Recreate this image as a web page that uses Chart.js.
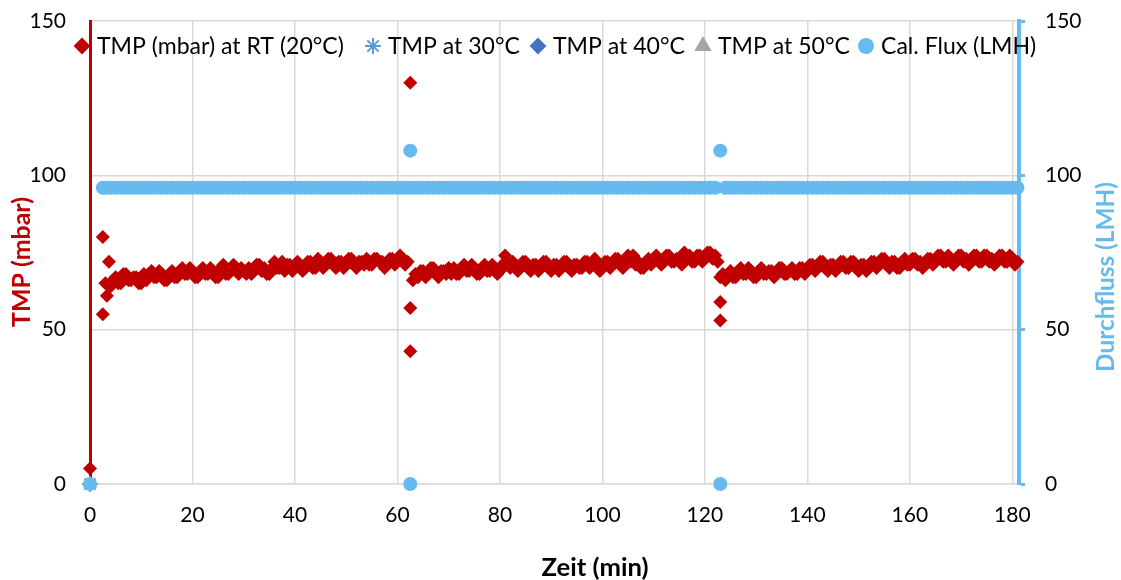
<!DOCTYPE html>
<html>
<head>
<meta charset="utf-8">
<script src="https://cdn.jsdelivr.net/npm/chart.js@4/dist/chart.umd.min.js"></script>
<style>
  html, body { margin: 0; padding: 0; background: #fff; }
  #wrap { width: 1121px; height: 580px; }
</style>
</head>
<body>
<div id="wrap"><canvas id="chart"></canvas></div>
<script>
// ---- data ----
const xTicks = [0, 20, 40, 60, 80, 100, 120, 140, 160, 180];
const yTicks = [0, 50, 100, 150];

const xTitle = "Zeit (min)";
const yTitle = "TMP (mbar)";
const y1Title = "Durchfluss (LMH)";

// TMP at RT, about two readings per minute
const tmpMinutes = [
  0, 2.5, 2.5, 3, 3.3, 3.7,
  4, 4.5, 5, 5.5, 6, 6.5, 7, 7.5, 8, 8.5, 9, 9.5, 10, 10.5,
  11, 11.5, 12, 12.5, 13, 13.5, 14, 14.5, 15, 15.5, 16, 16.5, 17, 17.5, 18, 18.5, 19, 19.5, 20, 20.5,
  21, 21.5, 22, 22.5, 23, 23.5, 24, 24.5, 25, 25.5, 26, 26.5, 27, 27.5, 28, 28.5, 29, 29.5, 30, 30.5,
  31, 31.5, 32, 32.5, 33, 33.5, 34, 34.5, 35, 35.5, 36, 36.5, 37, 37.5, 38, 38.5, 39, 39.5, 40, 40.5,
  41, 41.5, 42, 42.5, 43, 43.5, 44, 44.5, 45, 45.5, 46, 46.5, 47, 47.5, 48, 48.5, 49, 49.5, 50, 50.5,
  51, 51.5, 52, 52.5, 53, 53.5, 54, 54.5, 55, 55.5, 56, 56.5, 57, 57.5, 58, 58.5, 59, 59.5, 60, 60.5,
  61, 61.5, 62, 62.5, 62.5, 62.5,
  63, 63.5, 64, 64.5, 65, 65.5, 66, 66.5, 67, 67.5, 68, 68.5, 69, 69.5, 70, 70.5,
  71, 71.5, 72, 72.5, 73, 73.5, 74, 74.5, 75, 75.5, 76, 76.5, 77, 77.5, 78, 78.5, 79, 79.5, 80, 80.5,
  81, 81.5, 82, 82.5, 83, 83.5, 84, 84.5, 85, 85.5, 86, 86.5, 87, 87.5, 88, 88.5, 89, 89.5, 90, 90.5,
  91, 91.5, 92, 92.5, 93, 93.5, 94, 94.5, 95, 95.5, 96, 96.5, 97, 97.5, 98, 98.5, 99, 99.5, 100, 100.5,
  101, 101.5, 102, 102.5, 103, 103.5, 104, 104.5, 105, 105.5, 106, 106.5, 107, 107.5, 108, 108.5, 109, 109.5, 110, 110.5,
  111, 111.5, 112, 112.5, 113, 113.5, 114, 114.5, 115, 115.5, 116, 116.5, 117, 117.5, 118, 118.5, 119, 119.5, 120, 120.5,
  121, 121.5, 122, 122.5, 123, 123, 123,
  123.5, 124, 124.5, 125, 125.5, 126, 126.5, 127, 127.5, 128, 128.5, 129, 129.5, 130, 130.5,
  131, 131.5, 132, 132.5, 133, 133.5, 134, 134.5, 135, 135.5, 136, 136.5, 137, 137.5, 138, 138.5, 139, 139.5, 140, 140.5,
  141, 141.5, 142, 142.5, 143, 143.5, 144, 144.5, 145, 145.5, 146, 146.5, 147, 147.5, 148, 148.5, 149, 149.5, 150, 150.5,
  151, 151.5, 152, 152.5, 153, 153.5, 154, 154.5, 155, 155.5, 156, 156.5, 157, 157.5, 158, 158.5, 159, 159.5, 160, 160.5,
  161, 161.5, 162, 162.5, 163, 163.5, 164, 164.5, 165, 165.5, 166, 166.5, 167, 167.5, 168, 168.5, 169, 169.5, 170, 170.5,
  171, 171.5, 172, 172.5, 173, 173.5, 174, 174.5, 175, 175.5, 176, 176.5, 177, 177.5, 178, 178.5, 179, 179.5, 180, 180.5,
  181
];
const tmpRT = [
  5, 80, 55, 65, 61, 72,
  64, 66, 67, 65, 65, 68, 68, 66, 66, 67, 67, 65, 65, 68,
  66, 68, 69, 67, 67, 69, 68, 66, 66, 68, 69, 67, 67, 69, 70, 68, 68, 70, 69, 67,
  67, 69, 70, 68, 68, 70, 69, 67, 67, 70, 71, 68, 68, 70, 71, 69, 68, 70, 69, 68,
  70, 68, 69, 71, 71, 69, 70, 68, 68, 70, 72, 70, 70, 72, 69, 71, 71, 69, 70, 72,
  71, 69, 70, 72, 72, 70, 70, 73, 72, 70, 71, 73, 73, 71, 70, 72, 72, 70, 71, 73,
  73, 71, 70, 72, 72, 71, 73, 71, 71, 73, 73, 72, 72, 70, 71, 73, 73, 71, 72, 74,
  73, 71, 72, 130, 57, 43,
  66, 68, 67, 69, 69, 67, 68, 70, 70, 68, 67, 69, 69, 68, 70, 68,
  70, 68, 68, 70, 71, 69, 69, 71, 70, 68, 68, 70, 71, 69, 69, 71, 70, 68, 69, 71,
  74, 71, 70, 72, 71, 69, 70, 72, 72, 70, 69, 71, 71, 69, 70, 72, 72, 70, 69, 71,
  71, 69, 70, 72, 72, 70, 69, 71, 71, 70, 70, 72, 72, 70, 71, 73, 71, 69, 70, 72,
  72, 70, 71, 73, 73, 71, 70, 72, 74, 72, 74, 71, 72, 70, 70, 72, 73, 71, 72, 74,
  73, 71, 72, 74, 74, 72, 72, 73, 73, 71, 75, 73, 74, 72, 72, 74, 74, 72, 73, 75,
  75, 73, 74, 72, 67, 59, 53,
  68, 66, 68, 69, 67, 67, 69, 70, 68, 68, 70, 69, 67, 67, 69,
  70, 68, 68, 69, 69, 67, 68, 70, 70, 68, 68, 69, 70, 68, 68, 70, 70, 68, 69, 71,
  71, 69, 70, 72, 72, 70, 69, 71, 71, 69, 70, 72, 72, 70, 70, 72, 72, 70, 69, 71,
  71, 69, 70, 72, 72, 70, 71, 73, 73, 71, 70, 72, 72, 70, 70, 72, 73, 71, 71, 73,
  73, 71, 72, 70, 71, 73, 73, 71, 72, 74, 74, 72, 72, 74, 73, 71, 72, 74, 74, 72,
  73, 71, 72, 74, 74, 72, 72, 74, 74, 72, 73, 71, 72, 74, 74, 72, 72, 74, 73, 71,
  72
];

const otherMinutes = [0];
const tmp30 = [0];
const tmp40 = [0];
const tmp50 = [0];

const fluxMinutes = [
  0, 2.5,
  3, 4, 5, 6, 7, 8, 9, 10, 11, 12,
  13, 14, 15, 16, 17, 18, 19, 20, 21, 22,
  23, 24, 25, 26, 27, 28, 29, 30, 31, 32,
  33, 34, 35, 36, 37, 38, 39, 40, 41, 42,
  43, 44, 45, 46, 47, 48, 49, 50, 51, 52,
  53, 54, 55, 56, 57, 58, 59, 60, 61, 62,
  62.5, 62.5,
  63, 64, 65, 66, 67, 68, 69, 70, 71, 72,
  73, 74, 75, 76, 77, 78, 79, 80, 81, 82,
  83, 84, 85, 86, 87, 88, 89, 90, 91, 92,
  93, 94, 95, 96, 97, 98, 99, 100, 101, 102,
  103, 104, 105, 106, 107, 108, 109, 110, 111, 112,
  113, 114, 115, 116, 117, 118, 119, 120, 121, 122,
  123, 123,
  124, 125, 126, 127, 128, 129, 130, 131, 132, 133,
  134, 135, 136, 137, 138, 139, 140, 141, 142, 143,
  144, 145, 146, 147, 148, 149, 150, 151, 152, 153,
  154, 155, 156, 157, 158, 159, 160, 161, 162, 163,
  164, 165, 166, 167, 168, 169, 170, 171, 172, 173,
  174, 175, 176, 177, 178, 179, 180, 181
];
const fluxLMH = [
  0, 96,
  96, 96, 96, 96, 96, 96, 96, 96, 96, 96,
  96, 96, 96, 96, 96, 96, 96, 96, 96, 96,
  96, 96, 96, 96, 96, 96, 96, 96, 96, 96,
  96, 96, 96, 96, 96, 96, 96, 96, 96, 96,
  96, 96, 96, 96, 96, 96, 96, 96, 96, 96,
  96, 96, 96, 96, 96, 96, 96, 96, 96, 96,
  108, 0,
  96, 96, 96, 96, 96, 96, 96, 96, 96, 96,
  96, 96, 96, 96, 96, 96, 96, 96, 96, 96,
  96, 96, 96, 96, 96, 96, 96, 96, 96, 96,
  96, 96, 96, 96, 96, 96, 96, 96, 96, 96,
  96, 96, 96, 96, 96, 96, 96, 96, 96, 96,
  96, 96, 96, 96, 96, 96, 96, 96, 96, 96,
  108, 0,
  96, 96, 96, 96, 96, 96, 96, 96, 96, 96,
  96, 96, 96, 96, 96, 96, 96, 96, 96, 96,
  96, 96, 96, 96, 96, 96, 96, 96, 96, 96,
  96, 96, 96, 96, 96, 96, 96, 96, 96, 96,
  96, 96, 96, 96, 96, 96, 96, 96, 96, 96,
  96, 96, 96, 96, 96, 96, 96, 96
];

// -------------------------
// helpers
// -------------------------
function pairs(xs, ys) {
  return xs.map((x, i) => ({ x: x, y: ys[i] }));
}

const RED = "#C00000";
const FLUX = "#66BAEE";
const GRID = "#D9D9D9";
const FONT = "Lato";

Chart.defaults.font.family = FONT;
Chart.defaults.color = "#000";

// font size that makes `text` about `target` px wide
function fitFont(ctx, text, target, weight) {
  ctx.font = `${weight} 20px ${FONT}`;
  const w = ctx.measureText(text).width;
  return 20 * target / w;
}

// legend across the top of the plot + axis titles (Excel style)
const legendX = [82, 373, 538, 703, 866];
const legendW = [258, 132, 132, 133, 162];

const excelDecor = {
  id: "excelDecor",
  afterDraw(chart) {
    const ctx = chart.ctx;
    const sets = chart.data.datasets;
    ctx.save();

    // legend: one font size, small enough for every label to fit its slot
    const size = Math.min(...sets.map((ds, i) => fitFont(ctx, ds.label, legendW[i], "normal")));
    ctx.textBaseline = "middle";
    ctx.textAlign = "left";
    const y = 46;
    sets.forEach((ds, i) => {
      const x = legendX[i];
      ctx.fillStyle = ds.backgroundColor;
      ctx.strokeStyle = ds.borderColor;
      ctx.lineWidth = ds.pointStyle === "star" ? 2 : 0;
      Chart.helpers.drawPoint(ctx, {
        pointStyle: ds.pointStyle,
        radius: ds.pointStyle === "star" ? 8 : ds.pointRadius,
        borderWidth: ctx.lineWidth,
        rotation: 0
      }, x, y);
      ctx.fillStyle = "#000";
      ctx.font = `normal ${size}px ${FONT}`;
      ctx.fillText(ds.label, x + 15, y + 1);
    });

    // axis titles
    ctx.textAlign = "center";
    ctx.fillStyle = "#000";
    ctx.font = `bold ${fitFont(ctx, xTitle, 107, "bold")}px ${FONT}`;
    ctx.fillText(xTitle, 595, 568);

    ctx.save();
    ctx.translate(22, 262);
    ctx.rotate(-Math.PI / 2);
    ctx.fillStyle = RED;
    ctx.font = `bold ${fitFont(ctx, yTitle, 130, "bold")}px ${FONT}`;
    ctx.fillText(yTitle, 0, 0);
    ctx.restore();

    ctx.save();
    ctx.translate(1106, 277);
    ctx.rotate(-Math.PI / 2);
    ctx.fillStyle = FLUX;
    ctx.font = `bold ${fitFont(ctx, y1Title, 190, "bold")}px ${FONT}`;
    ctx.fillText(y1Title, 0, 0);
    ctx.restore();

    ctx.restore();
  }
};

new Chart(document.getElementById("chart"), {
  type: "scatter",
  data: {
    datasets: [
      {
        label: "TMP (mbar) at RT (20°C)",
        data: pairs(tmpMinutes, tmpRT),
        pointStyle: "rectRot",
        pointRadius: 7,
        backgroundColor: RED,
        borderColor: RED,
        borderWidth: 0,
        yAxisID: "y",
        clip: false,
        order: 1
      },
      {
        label: "TMP at 30°C",
        data: pairs(otherMinutes, tmp30),
        pointStyle: "star",
        pointRadius: 8,
        backgroundColor: "#5B9BD5",
        borderColor: "#5B9BD5",
        borderWidth: 2,
        yAxisID: "y",
        clip: false,
        order: 2
      },
      {
        label: "TMP at 40°C",
        data: pairs(otherMinutes, tmp40),
        pointStyle: "rectRot",
        pointRadius: 7,
        backgroundColor: "#4472C4",
        borderColor: "#4472C4",
        borderWidth: 0,
        yAxisID: "y",
        clip: false,
        order: 3
      },
      {
        label: "TMP at 50°C",
        data: pairs(otherMinutes, tmp50),
        pointStyle: "triangle",
        pointRadius: 8,
        backgroundColor: "#A5A5A5",
        borderColor: "#A5A5A5",
        borderWidth: 0,
        yAxisID: "y",
        clip: false,
        order: 4
      },
      {
        label: "Cal. Flux (LMH)",
        data: pairs(fluxMinutes, fluxLMH),
        pointStyle: "circle",
        pointRadius: 7,
        backgroundColor: FLUX,
        borderColor: FLUX,
        borderWidth: 0,
        yAxisID: "y1",
        clip: false,
        order: 0
      }
    ]
  },
  options: {
    responsive: true,
    maintainAspectRatio: false,
    animation: false,
    layout: { padding: { top: 21, left: 0, right: 0, bottom: 0 } },
    plugins: {
      tooltip: { enabled: false },
      legend: { display: false }
    },
    scales: {
      x: {
        type: "linear",
        min: 0,
        max: 181.3,
        afterBuildTicks: s => { s.ticks = xTicks.map(v => ({ value: v })); },
        afterFit: s => { s.height = 96; s.paddingLeft = 0; s.paddingRight = 0; },
        grid: { color: GRID, lineWidth: 1.5, drawTicks: false },
        border: { color: GRID, width: 1.5 },
        ticks: { font: { size: 21, family: FONT }, color: "#000", padding: 19, maxRotation: 0 }
      },
      y: {
        position: "left",
        min: 0,
        max: 150,
        afterBuildTicks: s => { s.ticks = yTicks.map(v => ({ value: v })); },
        afterFit: s => { s.width = 90; s.paddingTop = 0; s.paddingBottom = 0; },
        grid: { color: GRID, lineWidth: 1.5, drawTicks: false },
        border: { color: RED, width: 3 },
        ticks: { font: { size: 21, family: FONT }, color: "#000", padding: 24 }
      },
      y1: {
        position: "right",
        min: 0,
        max: 150,
        afterBuildTicks: s => { s.ticks = yTicks.map(v => ({ value: v })); },
        afterFit: s => { s.width = 102; s.paddingTop = 0; s.paddingBottom = 0; },
        grid: { drawOnChartArea: false, drawTicks: true, tickLength: 6, tickWidth: 3, tickColor: FLUX },
        border: { color: FLUX, width: 4 },
        ticks: { font: { size: 21, family: FONT }, color: "#000", padding: 20 }
      }
    }
  },
  plugins: [excelDecor]
});
</script>
</body>
</html>
